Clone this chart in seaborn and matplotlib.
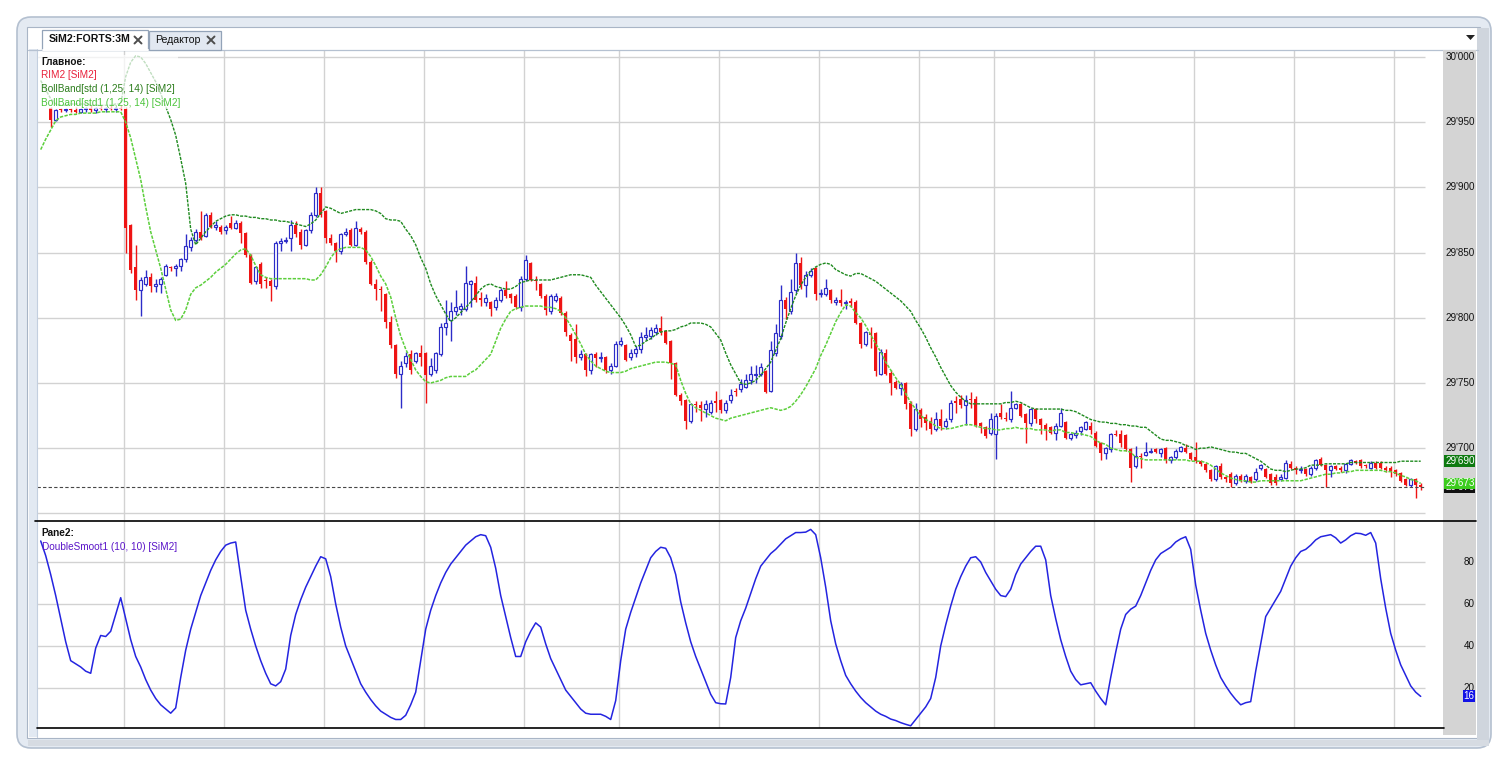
import numpy as np
import matplotlib
matplotlib.use("Agg")
import matplotlib.pyplot as plt
from matplotlib.patches import Rectangle, FancyBboxPatch, Polygon
from matplotlib.lines import Line2D
from matplotlib.transforms import IdentityTransform
import seaborn as sns

# ---------------- data ----------------
candle_open = [
    29961, 29952, 29960, 29959, 29960, 29959, 29958, 29960, 29961, 29959,
    29961, 29960, 29961, 29960, 29961, 29960, 29871, 29839, 29821, 29826,
    29831, 29824, 29826, 29833, 29839, 29838, 29840, 29845, 29854, 29860,
    29866, 29863, 29879, 29870, 29870, 29867, 29873, 29869, 29873, 29865,
    29848, 29828, 29841, 29829, 29828, 29824, 29857, 29859, 29861, 29871,
    29866, 29856, 29867, 29879, 29896, 29882, 29861, 29857, 29851, 29864,
    29867, 29856, 29868, 29866, 29843, 29826, 29822, 29818, 29797, 29779,
    29757, 29765, 29772, 29767, 29773, 29773, 29757, 29760, 29772, 29793,
    29798, 29805, 29807, 29807, 29826, 29827, 29815, 29812, 29812, 29808,
    29814, 29821, 29818, 29817, 29808, 29830, 29842, 29829, 29826, 29817,
    29805, 29814, 29815, 29804, 29787, 29784, 29770, 29772, 29760, 29772,
    29769, 29770, 29760, 29763, 29780, 29779, 29770, 29773, 29776, 29785,
    29786, 29789, 29792, 29790, 29782, 29765, 29741, 29737, 29721, 29734,
    29733, 29730, 29728, 29736, 29737, 29729, 29737, 29744, 29745, 29747,
    29752, 29756, 29757, 29759, 29744, 29773, 29786, 29814, 29805, 29821,
    29842, 29825, 29833, 29838, 29818, 29818, 29821, 29812, 29814, 29811,
    29813, 29812, 29796, 29780, 29788, 29788, 29757, 29773, 29758, 29751,
    29746, 29750, 29735, 29715, 29729, 29724, 29721, 29715, 29722, 29717,
    29722, 29736, 29738, 29733, 29738, 29738, 29719, 29716, 29712, 29711,
    29727, 29723, 29722, 29731, 29734, 29726, 29719, 29730, 29722, 29718,
    29716, 29712, 29717, 29720, 29708, 29710, 29713, 29715, 29717, 29712,
    29704, 29696, 29699, 29711, 29711, 29710, 29699, 29686, 29694, 29695,
    29697, 29699, 29696, 29700, 29691, 29693, 29698, 29700, 29696, 29693,
    29690, 29688, 29683, 29676, 29686, 29678, 29680, 29673, 29679, 29675,
    29678, 29676, 29685, 29684, 29680, 29678, 29676, 29677, 29688, 29685,
    29683, 29684, 29680, 29685, 29692, 29687, 29683, 29686, 29685, 29683,
    29688, 29690, 29691, 29687, 29685, 29689, 29689, 29685, 29685, 29683,
    29681, 29676, 29672, 29676, 29672,
]
candle_high = [
    29962, 29960, 29961, 29961, 29961, 29962, 29961, 29962, 29963, 29962,
    29963, 29962, 29963, 29962, 29963, 29962, 29872, 29856, 29831, 29837,
    29834, 29830, 29831, 29841, 29840, 29841, 29846, 29864, 29862, 29868,
    29882, 29880, 29881, 29874, 29871, 29871, 29878, 29875, 29874, 29866,
    29849, 29840, 29843, 29831, 29830, 29859, 29861, 29862, 29875, 29874,
    29868, 29868, 29881, 29900, 29900, 29883, 29864, 29858, 29865, 29869,
    29869, 29874, 29870, 29867, 29844, 29830, 29824, 29819, 29801, 29780,
    29767, 29774, 29775, 29774, 29779, 29774, 29769, 29774, 29796, 29814,
    29812, 29821, 29811, 29840, 29829, 29832, 29820, 29818, 29813, 29816,
    29823, 29828, 29819, 29818, 29832, 29848, 29843, 29832, 29827, 29818,
    29818, 29819, 29817, 29805, 29788, 29795, 29775, 29773, 29773, 29774,
    29774, 29771, 29765, 29782, 29785, 29780, 29776, 29778, 29789, 29793,
    29793, 29795, 29801, 29791, 29783, 29766, 29742, 29738, 29735, 29736,
    29736, 29737, 29737, 29744, 29738, 29737, 29745, 29746, 29753, 29757,
    29763, 29764, 29765, 29760, 29782, 29795, 29825, 29816, 29830, 29850,
    29847, 29836, 29838, 29839, 29822, 29830, 29822, 29816, 29822, 29814,
    29815, 29814, 29797, 29790, 29793, 29789, 29776, 29776, 29760, 29752,
    29751, 29751, 29736, 29735, 29731, 29726, 29724, 29728, 29730, 29723,
    29737, 29740, 29741, 29741, 29743, 29740, 29720, 29717, 29727, 29727,
    29734, 29728, 29744, 29735, 29735, 29727, 29731, 29731, 29723, 29719,
    29717, 29719, 29731, 29721, 29712, 29714, 29717, 29721, 29720, 29713,
    29705, 29701, 29712, 29714, 29714, 29711, 29700, 29702, 29696, 29705,
    29700, 29700, 29700, 29701, 29694, 29699, 29702, 29703, 29697, 29705,
    29691, 29689, 29684, 29687, 29689, 29679, 29682, 29680, 29680, 29680,
    29679, 29685, 29688, 29685, 29681, 29680, 29680, 29691, 29690, 29686,
    29686, 29685, 29686, 29692, 29693, 29688, 29687, 29687, 29686, 29689,
    29692, 29691, 29692, 29688, 29690, 29690, 29690, 29686, 29686, 29684,
    29682, 29677, 29677, 29677, 29673,
]
candle_low = [
    29946, 29951, 29958, 29958, 29958, 29957, 29957, 29958, 29958, 29957,
    29959, 29958, 29959, 29958, 29959, 29850, 29834, 29814, 29801, 29824,
    29820, 29820, 29819, 29832, 29836, 29832, 29836, 29843, 29851, 29858,
    29860, 29862, 29869, 29867, 29864, 29864, 29868, 29868, 29857, 29847,
    29826, 29826, 29823, 29823, 29813, 29822, 29851, 29857, 29851, 29862,
    29853, 29855, 29865, 29877, 29877, 29857, 29856, 29843, 29849, 29863,
    29855, 29855, 29864, 29841, 29825, 29814, 29805, 29792, 29777, 29754,
    29731, 29762, 29757, 29765, 29763, 29735, 29755, 29758, 29771, 29787,
    29782, 29802, 29802, 29805, 29808, 29812, 29809, 29809, 29801, 29806,
    29812, 29815, 29811, 29807, 29805, 29828, 29828, 29821, 29815, 29802,
    29803, 29812, 29802, 29786, 29767, 29765, 29768, 29755, 29757, 29762,
    29766, 29758, 29757, 29762, 29778, 29767, 29768, 29770, 29773, 29783,
    29784, 29787, 29787, 29780, 29753, 29740, 29733, 29715, 29719, 29728,
    29721, 29724, 29726, 29728, 29727, 29727, 29735, 29740, 29743, 29746,
    29749, 29750, 29755, 29742, 29743, 29771, 29784, 29799, 29803, 29819,
    29822, 29816, 29831, 29814, 29816, 29817, 29811, 29810, 29809, 29807,
    29808, 29795, 29777, 29778, 29777, 29755, 29756, 29756, 29741, 29745,
    29741, 29730, 29709, 29713, 29716, 29714, 29711, 29713, 29714, 29715,
    29720, 29727, 29731, 29718, 29731, 29716, 29712, 29708, 29710, 29692,
    29722, 29721, 29720, 29730, 29724, 29704, 29717, 29719, 29711, 29706,
    29711, 29706, 29716, 29707, 29706, 29708, 29710, 29714, 29711, 29701,
    29691, 29692, 29697, 29709, 29701, 29698, 29674, 29685, 29685, 29694,
    29696, 29696, 29693, 29689, 29689, 29692, 29697, 29696, 29691, 29689,
    29686, 29682, 29675, 29675, 29676, 29674, 29670, 29672, 29674, 29673,
    29673, 29675, 29683, 29677, 29672, 29672, 29675, 29676, 29684, 29680,
    29681, 29679, 29679, 29683, 29686, 29670, 29678, 29683, 29682, 29681,
    29687, 29688, 29685, 29685, 29684, 29684, 29684, 29682, 29678, 29679,
    29674, 29671, 29670, 29662, 29668,
]
candle_close = [
    29952, 29959, 29959, 29960, 29959, 29958, 29960, 29961, 29959, 29961,
    29960, 29961, 29960, 29961, 29960, 29869, 29837, 29821, 29829, 29831,
    29824, 29826, 29830, 29840, 29838, 29840, 29845, 29855, 29860, 29866,
    29861, 29879, 29870, 29871, 29866, 29870, 29869, 29873, 29865, 29848,
    29827, 29839, 29826, 29828, 29824, 29857, 29859, 29860, 29871, 29864,
    29856, 29867, 29879, 29896, 29879, 29861, 29857, 29851, 29864, 29866,
    29856, 29869, 29866, 29843, 29826, 29822, 29821, 29797, 29779, 29757,
    29763, 29771, 29760, 29773, 29770, 29756, 29763, 29773, 29793, 29796,
    29805, 29808, 29809, 29827, 29828, 29814, 29814, 29815, 29807, 29814,
    29821, 29817, 29815, 29808, 29830, 29844, 29829, 29828, 29817, 29806,
    29817, 29817, 29804, 29789, 29782, 29770, 29772, 29760, 29772, 29769,
    29770, 29760, 29763, 29780, 29782, 29768, 29773, 29776, 29785, 29787,
    29791, 29792, 29789, 29781, 29765, 29741, 29736, 29721, 29734, 29733,
    29731, 29734, 29735, 29735, 29729, 29735, 29741, 29743, 29749, 29752,
    29757, 29757, 29762, 29743, 29775, 29788, 29814, 29807, 29820, 29842,
    29825, 29833, 29836, 29818, 29819, 29823, 29814, 29814, 29811, 29812,
    29811, 29796, 29780, 29789, 29787, 29759, 29774, 29757, 29750, 29746,
    29749, 29734, 29715, 29730, 29722, 29719, 29715, 29722, 29717, 29721,
    29735, 29735, 29733, 29737, 29737, 29718, 29717, 29709, 29722, 29725,
    29724, 29722, 29731, 29734, 29725, 29719, 29730, 29722, 29718, 29715,
    29712, 29717, 29727, 29708, 29711, 29712, 29716, 29720, 29714, 29702,
    29696, 29700, 29711, 29710, 29704, 29699, 29685, 29694, 29693, 29697,
    29698, 29697, 29699, 29691, 29693, 29698, 29701, 29697, 29692, 29690,
    29688, 29683, 29676, 29686, 29678, 29676, 29673, 29679, 29675, 29679,
    29674, 29682, 29687, 29678, 29673, 29673, 29678, 29689, 29685, 29683,
    29684, 29680, 29685, 29691, 29687, 29683, 29686, 29684, 29683, 29688,
    29691, 29689, 29686, 29686, 29689, 29685, 29685, 29683, 29682, 29680,
    29675, 29672, 29676, 29672, 29670,
]
# indicator series start two bars before the first full candle
band_upper = [
    29982, 29975, 29968, 29964, 29963, 29963, 29964, 29964, 29964, 29964,
    29963, 29963, 29963, 29963, 29963, 29964, 29964, 29985, 29996, 30001,
    30000, 29995, 29988, 29981, 29972, 29962, 29952, 29940, 29922, 29903,
    29868, 29856, 29861, 29866, 29870, 29874, 29876, 29878, 29879, 29879,
    29878, 29878, 29877, 29877, 29876, 29876, 29875, 29875, 29874, 29874,
    29873, 29872, 29871, 29870, 29872, 29875, 29880, 29885, 29884, 29882,
    29880, 29881, 29882, 29883, 29883, 29883, 29883, 29882, 29880, 29876,
    29875, 29875, 29874, 29868, 29863, 29856, 29846, 29838, 29826, 29817,
    29810, 29803, 29797, 29800, 29804, 29808, 29812, 29817, 29822, 29825,
    29826, 29824, 29823, 29822, 29822, 29824, 29827, 29828, 29829, 29829,
    29829, 29829, 29829, 29830, 29831, 29832, 29833, 29833, 29833, 29832,
    29831, 29825, 29820, 29815, 29810, 29805, 29800, 29794, 29787, 29778,
    29779, 29782, 29784, 29787, 29789, 29790, 29790, 29791, 29793, 29794,
    29796, 29796, 29796, 29795, 29793, 29788, 29783, 29773, 29764, 29757,
    29750, 29749, 29750, 29752, 29756, 29761, 29766, 29775, 29784, 29796,
    29807, 29817, 29825, 29831, 29836, 29839, 29841, 29842, 29841, 29837,
    29835, 29833, 29832, 29834, 29834, 29832, 29830, 29828, 29825, 29822,
    29819, 29816, 29813, 29809, 29805, 29798, 29792, 29785, 29777, 29770,
    29762, 29755, 29748, 29743, 29739, 29736, 29734, 29734, 29734, 29734,
    29734, 29734, 29734, 29735, 29735, 29736, 29735, 29733, 29731, 29730,
    29730, 29730, 29730, 29730, 29730, 29729, 29729, 29728, 29726, 29724,
    29722, 29721, 29720, 29720, 29719, 29719, 29718, 29718, 29717, 29717,
    29716, 29716, 29713, 29710, 29707, 29706, 29706, 29705, 29704, 29702,
    29701, 29699, 29700, 29700, 29701, 29700, 29699, 29698, 29697, 29697,
    29696, 29696, 29694, 29692, 29690, 29687, 29684, 29683, 29683, 29682,
    29683, 29684, 29684, 29685, 29687, 29687, 29687, 29688, 29688, 29688,
    29688, 29688, 29689, 29689, 29689, 29689, 29689, 29689, 29689, 29689,
    29689, 29689, 29690, 29690, 29690, 29690, 29690,
]
band_lower = [
    29929, 29937, 29944, 29951, 29954, 29955, 29956, 29956, 29957, 29957,
    29957, 29957, 29958, 29958, 29958, 29958, 29958, 29950, 29938, 29922,
    29906, 29885, 29866, 29852, 29838, 29822, 29806, 29798, 29799, 29806,
    29818, 29823, 29825, 29828, 29831, 29835, 29838, 29841, 29845, 29849,
    29852, 29853, 29848, 29840, 29833, 29831, 29830, 29830, 29830, 29830,
    29830, 29830, 29830, 29830, 29829, 29829, 29833, 29839, 29846, 29851,
    29853, 29854, 29854, 29854, 29854, 29852, 29847, 29840, 29832, 29826,
    29816, 29800, 29786, 29776, 29768, 29760, 29755, 29751, 29750, 29751,
    29752, 29754, 29755, 29755, 29755, 29755, 29758, 29760, 29764, 29768,
    29772, 29782, 29792, 29799, 29805, 29807, 29808, 29809, 29809, 29809,
    29809, 29808, 29808, 29807, 29805, 29800, 29794, 29787, 29780, 29772,
    29767, 29763, 29761, 29759, 29758, 29758, 29758, 29759, 29761, 29762,
    29763, 29764, 29765, 29766, 29766, 29766, 29765, 29764, 29752, 29742,
    29734, 29731, 29729, 29727, 29725, 29723, 29722, 29721, 29723, 29724,
    29725, 29726, 29727, 29728, 29729, 29730, 29731, 29730, 29729, 29730,
    29732, 29736, 29741, 29747, 29754, 29761, 29771, 29779, 29788, 29797,
    29804, 29810, 29809, 29804, 29800, 29794, 29787, 29780, 29774, 29766,
    29760, 29754, 29749, 29742, 29735, 29730, 29725, 29722, 29720, 29717,
    29715, 29715, 29715, 29716, 29717, 29718, 29718, 29717, 29716, 29715,
    29715, 29714, 29714, 29715, 29715, 29716, 29715, 29715, 29715, 29714,
    29714, 29714, 29713, 29714, 29714, 29712, 29712, 29711, 29711, 29710,
    29709, 29706, 29704, 29703, 29700, 29699, 29698, 29698, 29697, 29693,
    29692, 29691, 29691, 29691, 29691, 29691, 29691, 29691, 29691, 29691,
    29690, 29690, 29690, 29689, 29687, 29684, 29681, 29679, 29677, 29676,
    29675, 29675, 29674, 29674, 29675, 29675, 29675, 29675, 29675, 29675,
    29675, 29675, 29675, 29676, 29677, 29678, 29679, 29680, 29680, 29681,
    29681, 29682, 29682, 29683, 29683, 29683, 29683, 29683, 29683, 29682,
    29682, 29681, 29679, 29678, 29676, 29675, 29673,
]
double_smooth = [
    90, 83, 74, 64, 53, 42, 33, 31.5, 30, 28,
    27, 39, 45, 44.5, 47, 55, 63, 53, 43, 35,
    30, 24, 19, 15, 12, 10, 8, 10.5, 25, 38,
    48, 56, 64, 70, 76, 81, 85, 88, 89, 89.5,
    73, 57, 48, 40, 33, 27, 22, 21, 23, 29,
    45, 55, 62, 68, 73, 78, 82.5, 81.5, 73, 60,
    49, 40, 34, 28, 22, 18, 14.5, 11.5, 9, 7.5,
    6, 5, 5, 7, 12, 18, 33, 48, 57, 64,
    70, 75, 79, 82, 85, 88, 90, 92, 93, 92.5,
    87, 77, 64, 54, 44, 35, 35, 42, 47, 51,
    49, 41, 34, 29, 24, 19, 16, 13, 10, 8,
    7.5, 7.5, 7.5, 6.5, 5, 14, 33, 48, 56, 63,
    70, 76, 82, 85, 87, 86.5, 82, 74, 61, 51,
    42, 35, 29, 23, 17, 13, 12.5, 12.4, 25, 44,
    52, 58, 65, 72, 78, 81, 84, 86, 88.5, 91,
    92.5, 94, 94, 94.2, 95.5, 93, 82, 68, 52, 41,
    33, 26, 22, 18.5, 15.5, 13, 11, 9, 7.5, 6.5,
    5.2, 4.5, 3.5, 2.7, 2, 5, 8, 11, 15, 25,
    40, 50, 59, 67, 73, 78, 82, 82.5, 80, 75,
    71, 67, 64, 63.5, 67, 74, 79, 82, 85, 87.5,
    87.5, 81, 64, 53, 43, 35, 28, 24, 21.5, 22,
    22.5, 18.5, 15, 12, 25, 37, 48, 55, 57.5, 59,
    64, 70, 76, 81, 84, 85.5, 87, 89.5, 91, 92,
    86, 69, 57, 46, 38, 31, 25, 21, 17.5, 14.5,
    12, 13, 13.5, 28, 41, 54, 58, 62, 66, 72,
    78, 82, 85, 86, 88, 90.5, 92, 92.5, 93, 91.5,
    89, 90.5, 92.5, 93.7, 93.5, 92.7, 94, 89, 72, 58,
    46, 38, 31, 26, 21, 18, 16,
]
price_grid = [29650, 29700, 29750, 29800, 29850, 29900, 29950, 30000]
price_labels = [29700, 29750, 29800, 29850, 29900, 29950, 30000]
osc_grid = [20, 40, 60, 80]
time_grid_bars = [15, 35, 55, 75, 95, 114, 134, 154, 174, 189, 209, 229, 249, 269]
legend_main = ["Главное:", "RIM2 [SiM2]", "BollBand[std (1,25, 14) [SiM2]",
               "BollBand[std1 (1,25, 14) [SiM2]"]
legend_pane2 = ["Pane2:", "DoubleSmoot1 (10, 10) [SiM2]"]
tab_titles = ["SiM2:FORTS:3M", "Редактор"]

# ---------------- style ----------------
sns.set_theme(style="white")
plt.rcParams['font.family'] = ['Liberation Sans', 'DejaVu Sans']

RED = "#ee1414"
BLUE = "#2c2cc8"
DKGREEN = "#1f8a1f"
LTGREEN = "#5ccf3c"
OSC = "#2424e0"
GRID = "#d2d2d2"

W, H = 1506, 758
fig = plt.figure(figsize=(W / 100, H / 100), dpi=100)
fig.patch.set_facecolor("white")


def fx(x):
    return x / W


def fy(y):
    return 1 - y / H


def prect(x0, y0, x1, y1, z=1, **kw):
    r = Rectangle((fx(x0), fy(y1)), (x1 - x0) / W, (y1 - y0) / H,
                  transform=fig.transFigure, zorder=z, **kw)
    fig.add_artist(r)
    return r


def pline(x0, y0, x1, y1, z=4, **kw):
    ln = Line2D([fx(x0), fx(x1)], [fy(y0), fy(y1)], transform=fig.transFigure,
                zorder=z, **kw)
    fig.add_artist(ln)
    return ln


# window chrome
outer = FancyBboxPatch((17, H - 748), 1474, 731, boxstyle="round,pad=0,rounding_size=14",
                       transform=IdentityTransform(), fc="#e4eaf2", ec="#b4c0d0",
                       lw=1.2, zorder=-5)
fig.add_artist(outer)
prect(27, 27, 1480, 738, z=-4, fc="white", ec="#a9b5c6", lw=0.8)
prect(1477, 28, 1489, 742, z=-3, fc="#cfd5dd", ec="none")
prect(28, 740, 1489, 746, z=-3, fc="#d6dbe2", ec="none")
prect(29, 49, 36.5, 737, z=1, fc="#e2e9f2", ec="none")
pline(36.5, 49, 36.5, 737, z=1, color="#c3cfdf", lw=0.8)
pline(28, 49.5, 1478, 49.5, z=1, color="#b5c1d1", lw=0.9)

# tabs
prect(42, 30, 148, 49.5, z=2, fc="white", ec="#93a3b8", lw=0.9)
prect(149, 31, 221, 49.5, z=2, fc="#e2e8f1", ec="#93a3b8", lw=0.9)
pline(42.5, 49.5, 147.5, 49.5, z=3, color="white", lw=1.4)
fig.text(fx(49), fy(39.5), tab_titles[0], fontsize=7.6, fontweight="bold",
         va="center", ha="left", color="#111111", zorder=4)
fig.text(fx(155), fy(40), tab_titles[1], fontsize=7.6, va="center", ha="left",
         color="#111111", zorder=4)
for cx in (138, 211):
    pline(cx - 3.5, 36.5, cx + 3.5, 43.5, z=4, color="#4d4d4d", lw=1.4)
    pline(cx - 3.5, 43.5, cx + 3.5, 36.5, z=4, color="#4d4d4d", lw=1.4)
tri = Polygon([[fx(1466), fy(35)], [fx(1475), fy(35)], [fx(1470.5), fy(40)]],
              closed=True, transform=fig.transFigure, fc="#222222", ec="none", zorder=4)
fig.add_artist(tri)

# right price panel
prect(1443, 50, 1476, 735, z=1, fc="#d4d4d4", ec="none")

# ---------------- axes ----------------
XL = (-2.74, 278.46)
GRID_END = 274.86
ax1 = fig.add_axes([fx(37), fy(520), (1443 - 37) / W, (520 - 50) / H])
ax2 = fig.add_axes([fx(37), fy(728), (1443 - 37) / W, (728 - 521) / H])

n = min(len(candle_open), len(candle_high), len(candle_low), len(candle_close))
O = np.array(candle_open[:n], float)
Hh = np.array(candle_high[:n], float)
L = np.array(candle_low[:n], float)
C = np.array(candle_close[:n], float)
xc = np.arange(n)
m = min(len(band_upper), len(band_lower), len(double_smooth))
xb = np.arange(m) - 2

# grid
ax1.hlines(price_grid, XL[0], GRID_END, colors=GRID, lw=1.0, zorder=0)
ax2.hlines(osc_grid, XL[0], GRID_END, colors=GRID, lw=1.0, zorder=0)
for g in time_grid_bars:
    ax1.axvline(g - 0.34, color=GRID, lw=1.0, zorder=0)
    ax2.axvline(g - 0.34, color=GRID, lw=1.0, zorder=0)

# candles
up = C >= O
wick_cols = [BLUE if u else RED for u in up]
ax1.vlines(xc, L, Hh, colors=wick_cols, lw=1.0, zorder=3)
bottom = np.minimum(O, C)
height = np.maximum(np.abs(C - O), 0.7)
ax1.bar(xc[~up], height[~up], bottom=bottom[~up], width=0.64, color=RED,
        linewidth=0, zorder=4)
ax1.bar(xc[up], height[up], bottom=bottom[up], width=0.52, facecolor="white",
        edgecolor=BLUE, linewidth=0.85, zorder=4)

# Bollinger bands
sns.lineplot(x=xb, y=np.array(band_upper[:m], float), ax=ax1, color=DKGREEN,
             lw=1.0, errorbar=None, zorder=5, legend=False)
ax1.lines[-1].set_linestyle((0, (2.2, 0.9)))
sns.lineplot(x=xb, y=np.array(band_lower[:m], float), ax=ax1, color=LTGREEN,
             lw=1.1, errorbar=None, zorder=5, legend=False)
ax1.lines[-1].set_linestyle((0, (2.2, 0.9)))

# last price line
ax1.hlines(C[-1], XL[0], GRID_END, colors="#474747", lw=0.8,
           linestyles=(0, (3, 2)), zorder=6)

# oscillator
sns.lineplot(x=xb, y=np.array(double_smooth[:m], float), ax=ax2, color=OSC,
             lw=1.1, errorbar=None, zorder=5, legend=False)

for ax in (ax1, ax2):
    ax.set_xlim(*XL)
    ax.set_facecolor("white")
    for s in ax.spines.values():
        s.set_visible(False)
    ax.set_xticks([])
    ax.set_yticks([])
    ax.set_xlabel("")
    ax.set_ylabel("")
ax1.set_ylim(29644.9, 30005.4)
ax2.set_ylim(0.95, 99.5)

# separators
pline(35, 520.5, 1476, 520.5, z=6, color="black", lw=1.2)
pline(37, 728.3, 1444, 728.3, z=6, color="black", lw=1.2)


def figy(ax, v):
    return fig.transFigure.inverted().transform(ax.transData.transform((0, v)))[1]


def fmt(v):
    return f"{int(v):,}".replace(",", "'")


for p in price_labels:
    fig.text(fx(1474.5), figy(ax1, p), fmt(p), fontsize=7.1, ha="right", va="center",
             color="#111111", zorder=5)
for v in osc_grid:
    fig.text(fx(1474.5), figy(ax2, v), str(v), fontsize=7.1, ha="right", va="center",
             color="#111111", zorder=5)


def value_box(ax, v, label, fc, x0=1444, x1=1475, hpx=12, tc="white", z=6):
    yc = figy(ax, v)
    r = Rectangle((fx(x0), yc - hpx / 2 / H), (x1 - x0) / W, hpx / H,
                  transform=fig.transFigure, fc=fc, ec="none", zorder=z)
    fig.add_artist(r)
    fig.text(fx(1474.5), yc, label, fontsize=7.1, ha="right", va="center",
             color=tc, zorder=z + 0.5)


value_box(ax1, C[-1], fmt(C[-1]), "#111111", hpx=11, z=6)
value_box(ax1, band_lower[m - 1], fmt(band_lower[m - 1]), "#3ccc1e", hpx=11, z=7)
value_box(ax1, band_upper[m - 1], fmt(band_upper[m - 1]), "#0e7a10", hpx=12, z=7)
value_box(ax2, double_smooth[m - 1], str(int(round(double_smooth[m - 1]))), "#1212e6",
          x0=1463, hpx=12, z=7)

# legends
prect(38, 55, 178, 108.5, z=2, fc="white", ec="none", alpha=0.72)
main_cols = ["#111111", "#e8203a", "#2c7d1c", "#4cc43c"]
main_y = [62, 75.5, 89, 102.5]
for t, c, y in zip(legend_main, main_cols, main_y):
    fig.text(fx(41), fy(y), t, fontsize=7.2, color=c, va="center", ha="left",
             fontweight="bold" if t.endswith(":") else "normal", zorder=3)
pane_cols = ["#111111", "#5a14c8"]
pane_y = [533.5, 546.5]
for t, c, y in zip(legend_pane2, pane_cols, pane_y):
    fig.text(fx(41.5), fy(y), t, fontsize=7.2, color=c, va="center", ha="left",
             fontweight="bold" if t.endswith(":") else "normal", zorder=3)

fig.savefig("out.png", dpi=100)
